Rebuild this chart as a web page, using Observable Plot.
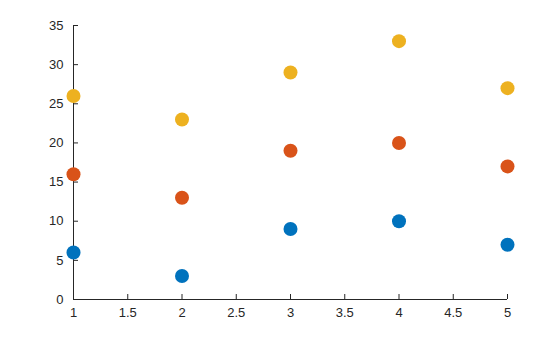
<!DOCTYPE html>
<html>
<head>
<meta charset="utf-8">
<script src="https://cdn.jsdelivr.net/npm/d3@7"></script>
<script src="https://cdn.jsdelivr.net/npm/@observablehq/plot@0.6"></script>
<style>
  html, body { margin: 0; padding: 0; background: #fff; }
  svg { display: block; }
</style>
</head>
<body>
<div id="chart"></div>
<script>
const xValues = [1, 2, 3, 4, 5];
const series1 = [6, 3, 9, 10, 7];
const series2 = [16, 13, 19, 20, 17];
const series3 = [26, 23, 29, 33, 27];
const seriesNames = ["s1", "s2", "s3"];
const seriesColors = ["#0072BD", "#D95319", "#EDB120"];
const xTicks = [1, 1.5, 2, 2.5, 3, 3.5, 4, 4.5, 5];
const yTicks = [0, 5, 10, 15, 20, 25, 30, 35];

const allSeries = [series1, series2, series3];
const data = [];
allSeries.forEach((s, i) => s.forEach((v, j) => data.push({x: xValues[j], y: v, s: seriesNames[i]})));

const axisColor = "#262626";
const font = "'Liberation Sans', Arial, Helvetica, sans-serif";
const chart = Plot.plot({
  width: 560,
  height: 337,
  marginLeft: 73,
  marginRight: 53,
  marginTop: 25,
  marginBottom: 38,
  style: {fontFamily: font, fontSize: "13px", color: axisColor, background: "#fff"},
  x: {domain: [1, 5]},
  y: {domain: [0, 35]},
  color: {domain: seriesNames, range: seriesColors},
  marks: [
    Plot.axisX({ticks: xTicks, tickSize: -5, tickPadding: 13, fontSize: 13, fontFamily: font, stroke: axisColor, fill: axisColor, label: null, tickFormat: d => String(d)}),
    Plot.axisY({ticks: yTicks, tickSize: -5, tickPadding: 15, fontSize: 13, fontFamily: font, stroke: axisColor, fill: axisColor, label: null}),
    Plot.ruleY([0], {stroke: axisColor}),
    Plot.ruleX([1], {stroke: axisColor}),
    Plot.dot(data, {x: "x", y: "y", fill: "s", r: 7, clip: false})
  ]
});
document.getElementById("chart").appendChild(chart);
</script>
</body>
</html>
